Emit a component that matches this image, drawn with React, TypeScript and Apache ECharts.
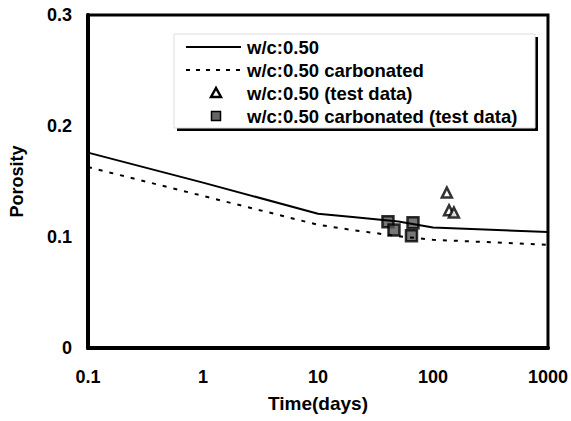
import React, { useEffect, useRef } from "react";
import * as echarts from "echarts";

const modelTime = [0.1, 1, 10, 20, 50, 100, 1000];
const porosityModel = [0.176, 0.149, 0.121, 0.118, 0.114, 0.1085, 0.1045];
const porosityCarbonated = [0.163, 0.137, 0.111, 0.1063, 0.1007, 0.0975, 0.093];

const testTime = [132, 138, 152];
const testPorosity = [0.14, 0.124, 0.122];

const carbTestTime = [40.6, 45.8, 67, 65];
const carbTestPorosity = [0.1138, 0.1063, 0.1129, 0.1012];

const names = [
  "w/c:0.50",
  "w/c:0.50 carbonated",
  "w/c:0.50 (test data)",
  "w/c:0.50 carbonated (test data)",
];

const FONT = "'Liberation Sans', Arial, sans-serif";

export default function App() {
  const ref = useRef<HTMLDivElement>(null);
  useEffect(() => {
    document.body.style.margin = "0";
    const chart = echarts.init(ref.current!, null, { renderer: "svg" });
    const zip = (xs: number[], ys: number[]) => xs.map((x, i) => [x, ys[i]]);

    const rowY = [47, 70, 93, 116];
    const iconX0 = 186;
    const iconX1 = 241;
    const iconCx = 216;
    const textX = 247;
    const legendGraphics: any[] = [
      {
        type: "rect",
        z: 10,
        shape: { x: 177, y: 37, width: 361, height: 94 },
        style: { fill: "#000" },
      },
      {
        type: "rect",
        z: 11,
        shape: { x: 174, y: 34, width: 361, height: 94 },
        style: { fill: "#fff", stroke: "#ddd", lineWidth: 1 },
      },
      {
        type: "line",
        z: 12,
        shape: { x1: iconX0, y1: rowY[0], x2: iconX1, y2: rowY[0] },
        style: { stroke: "#000", lineWidth: 2 },
      },
      {
        type: "line",
        z: 12,
        shape: { x1: iconX0, y1: rowY[1], x2: iconX1, y2: rowY[1] },
        style: { stroke: "#000", lineWidth: 2, lineDash: [4, 6] },
      },
      {
        type: "polygon",
        z: 12,
        shape: {
          points: [
            [iconCx, rowY[2] - 5],
            [iconCx - 5, rowY[2] + 4],
            [iconCx + 5, rowY[2] + 4],
          ],
        },
        style: { fill: "#fff", stroke: "#000", lineWidth: 2.5 },
      },
      {
        type: "rect",
        z: 12,
        shape: { x: iconCx - 4.5, y: rowY[3] - 4.5, width: 9, height: 9 },
        style: { fill: "#666", stroke: "#000", lineWidth: 1.5 },
      },
      ...names.map((n, i) => ({
        type: "text",
        z: 12,
        x: textX,
        y: rowY[i],
        style: {
          text: n,
          fontFamily: FONT,
          fontSize: 18.5,
          fontWeight: "bold",
          fill: "#000",
          verticalAlign: "middle",
          align: "left",
        },
      })),
    ];

    chart.setOption({
      animation: false,
      backgroundColor: "#fff",
      grid: {
        left: 84,
        right: 22,
        top: 15,
        bottom: 73,
        show: true,
        borderColor: "#000",
        borderWidth: 3,
        backgroundColor: "transparent",
      },
      xAxis: {
        type: "log",
        logBase: 10,
        min: 0.1,
        max: 1000,
        name: "Time(days)",
        nameLocation: "middle",
        nameGap: 46,
        nameTextStyle: { fontFamily: FONT, fontSize: 19, fontWeight: "bold", color: "#000" },
        axisLine: { show: true, lineStyle: { color: "#000", width: 4 } },
        axisTick: { show: false },
        splitLine: { show: false },
        minorTick: { show: false },
        axisLabel: {
          fontFamily: FONT,
          fontSize: 18,
          fontWeight: "bold",
          color: "#000",
          margin: 20,
          formatter: (v: number) => String(+v.toPrecision(6)),
        },
      },
      yAxis: {
        type: "value",
        min: 0,
        max: 0.3,
        interval: 0.1,
        name: "Porosity",
        nameLocation: "middle",
        nameGap: 62,
        nameTextStyle: { fontFamily: FONT, fontSize: 18, fontWeight: "bold", color: "#000" },
        axisLine: { show: true, lineStyle: { color: "#000", width: 4 } },
        axisTick: { show: false },
        splitLine: { show: false },
        axisLabel: {
          fontFamily: FONT,
          fontSize: 18,
          fontWeight: "bold",
          color: "#000",
          margin: 16,
          formatter: (v: number) => String(+v.toFixed(2)),
        },
      },
      graphic: legendGraphics,
      series: [
        {
          name: names[0],
          type: "line",
          symbol: "none",
          data: zip(modelTime, porosityModel),
          lineStyle: { color: "#000", width: 2 },
          itemStyle: { color: "#000" },
        },
        {
          name: names[1],
          type: "line",
          symbol: "none",
          data: zip(modelTime, porosityCarbonated),
          lineStyle: { color: "#000", width: 2, type: [4, 7] },
          itemStyle: { color: "#000" },
        },
        {
          name: names[2],
          type: "scatter",
          symbol: "triangle",
          symbolSize: 10,
          data: zip(testTime, testPorosity),
          itemStyle: { color: "#fff", borderColor: "#000", borderWidth: 2.5 },
        },
        {
          name: names[3],
          type: "scatter",
          symbol: "rect",
          symbolSize: 11,
          data: zip(carbTestTime, carbTestPorosity),
          itemStyle: { color: "#555", borderColor: "#000", borderWidth: 2.5 },
        },
      ],
    });
    return () => chart.dispose();
  }, []);
  return <div ref={ref} style={{ width: 571, height: 421 }} />;
}
